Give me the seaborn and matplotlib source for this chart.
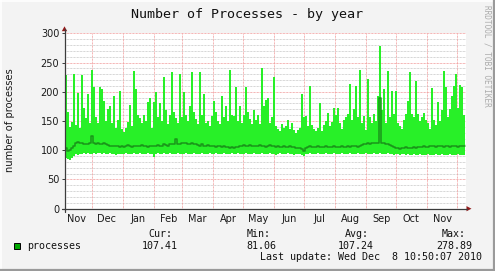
import numpy as np
import pandas as pd
import matplotlib
matplotlib.use("Agg")
import matplotlib.pyplot as plt
import matplotlib.dates as mdates
from matplotlib.patches import Rectangle, Polygon
from matplotlib.lines import Line2D
import seaborn as sns

# ---------------- data (2-day samples, Nov 2009 .. Dec 2010) ----------------
start_date = "2009-11-03 16:00"
step_days = 2

proc_max = [
    228, 165, 140, 148, 231, 143, 198, 138, 228, 172,
    155, 196, 146, 237, 208, 157, 146, 208, 205, 184,
    150, 170, 176, 147, 193, 138, 152, 201, 136, 132,
    138, 148, 178, 142, 236, 205, 160, 155, 146, 160,
    150, 182, 190, 138, 182, 200, 156, 180, 150, 226,
    168, 145, 160, 233, 166, 155, 146, 230, 156, 199,
    160, 150, 176, 234, 166, 154, 145, 233, 160, 197,
    146, 150, 141, 158, 184, 165, 150, 145, 192, 156,
    176, 150, 237, 160, 158, 209, 150, 176, 146, 160,
    209, 165, 153, 145, 168, 152, 160, 145, 240, 176,
    186, 189, 146, 156, 225, 141, 137, 133, 145, 138,
    142, 152, 137, 146, 135, 130, 134, 138, 196, 156,
    158, 142, 210, 144, 137, 133, 138, 180, 133, 144,
    150, 164, 141, 148, 172, 160, 172, 146, 137, 152,
    157, 162, 214, 152, 170, 210, 156, 237, 146, 158,
    134, 221, 156, 146, 162, 150, 192, 279, 168, 204,
    146, 236, 157, 202, 162, 202, 146, 142, 137, 152,
    162, 184, 234, 162, 156, 218, 162, 150, 157, 163,
    152, 146, 137, 206, 152, 144, 183, 150, 168, 235,
    209, 156, 170, 192, 210, 230, 172, 211, 209, 160,
]

proc_min = [
    86, 85, 84, 86, 90, 93, 92, 94, 93, 95,
    94, 95, 94, 93, 95, 94, 96, 95, 94, 95,
    93, 94, 95, 94, 93, 92, 93, 94, 93, 94,
    95, 94, 93, 94, 95, 94, 93, 95, 94, 93,
    94, 95, 93, 94, 88, 94, 95, 94, 93, 95,
    94, 93, 95, 94, 93, 94, 95, 94, 93, 94,
    95, 94, 93, 94, 95, 94, 93, 94, 95, 94,
    93, 94, 95, 93, 94, 95, 94, 93, 94, 95,
    94, 93, 94, 95, 94, 93, 95, 94, 93, 94,
    95, 94, 93, 94, 95, 94, 93, 94, 95, 94,
    93, 94, 95, 94, 93, 92, 94, 95, 94, 93,
    94, 95, 94, 93, 92, 94, 93, 94, 92, 90,
    93, 94, 95, 94, 93, 94, 95, 94, 93, 94,
    95, 94, 93, 94, 95, 94, 93, 94, 95, 94,
    93, 94, 95, 94, 93, 94, 95, 94, 93, 94,
    95, 94, 93, 94, 95, 94, 93, 95, 94, 93,
    94, 95, 94, 93, 92, 93, 94, 92, 93, 94,
    92, 93, 91, 92, 93, 92, 91, 93, 92, 91,
    92, 93, 92, 91, 92, 93, 91, 92, 93, 92,
    91, 92, 93, 92, 91, 92, 93, 92, 91, 92,
]

proc_avg = [
    103, 99, 100, 104, 108, 112, 114, 113, 112, 111,
    110, 111, 113, 124, 113, 111, 112, 110, 111, 112,
    110, 109, 108, 108, 107, 108, 107, 106, 107, 106,
    108, 109, 107, 106, 108, 107, 108, 107, 109, 107,
    108, 106, 107, 108, 107, 108, 109, 107, 108, 110,
    109, 108, 110, 111, 110, 120, 110, 111, 112, 113,
    112, 111, 110, 112, 111, 110, 109, 108, 110, 108,
    107, 109, 108, 107, 108, 106, 107, 108, 106, 107,
    105, 106, 104, 105, 104, 106, 105, 107, 108, 109,
    108, 107, 109, 108, 107, 108, 107, 109, 108, 107,
    106, 108, 109, 108, 107, 106, 107, 106, 105, 107,
    106, 105, 107, 106, 105, 104, 103, 104, 102, 99,
    103, 106, 107, 106, 105, 106, 107, 106, 105, 106,
    107, 106, 105, 106, 107, 106, 105, 106, 107, 106,
    105, 107, 106, 107, 108, 107, 106, 108, 109, 110,
    111, 112, 111, 112, 113, 112, 112, 190, 113, 112,
    111, 110, 109, 108, 106, 104, 103, 102, 104, 103,
    105, 104, 103, 104, 105, 104, 105, 106, 105, 107,
    106, 105, 107, 108, 107, 106, 107, 108, 107, 106,
    108, 107, 106, 107, 108, 107, 106, 107, 108, 107,
]

y_ticks = [0, 50, 100, 150, 200, 250, 300]
title = "Number of Processes - by year"
y_label = "number of processes"
series_name = "processes"
stat_names = ["Cur:", "Min:", "Avg:", "Max:"]
stat_values = ["107.41", "81.06", "107.24", "278.89"]
last_update = "Last update: Wed Dec  8 10:50:07 2010"
watermark = "RRDTOOL / TOBI OETIKER"

# ---------------- figure ----------------
sns.set_style("white")
plt.rcParams["font.family"] = ["DejaVu Sans"]

W, H = 495, 271
BG = "#F3F3F3"
fig = plt.figure(figsize=(W / 100, H / 100), dpi=100, facecolor=BG)


def fx(x):
    return x / W


def fy(y):
    return 1 - y / H


L, R, T, B = 64.5, 465.5, 33.3, 208.7
ax = fig.add_axes([fx(L), fy(B), (R - L) / W, (B - T) / H])
ax.set_facecolor("white")

n = len(proc_max)
dates = pd.Timestamp(start_date) + pd.to_timedelta(np.arange(n + 1) * step_days, unit="D")
mx = np.append(proc_max, proc_max[-1])
mn = np.append(proc_min, proc_min[-1])
av = np.append(proc_avg, proc_avg[-1])
df = pd.DataFrame({"date": dates, "max": mx, "min": mn, "avg": av})

ax.fill_between(df["date"], df["min"], df["max"], step="post",
                color="#28F028", lw=0, zorder=2)
sns.lineplot(data=df, x="date", y="avg", ax=ax, estimator=None,
             drawstyle="steps-post", color="#1A951A", lw=1.1, zorder=3)

ax.set_xlim(pd.Timestamp("2009-11-03 16:00"), pd.Timestamp("2010-12-09 00:00"))
ax.set_ylim(0, 300)

# grid (rrdtool style dotted)
dot = (0, (0.72, 0.72))
for v in range(0, 301, 10):
    if v % 50 == 0:
        continue
    ax.axhline(v, color="#C8C8C8", lw=0.72, ls=dot, zorder=1)
for v in y_ticks[1:]:
    ax.axhline(v, color="#F19B9B", lw=0.72, ls=dot, zorder=1)
months = pd.date_range("2009-12-01", "2010-12-01", freq="MS")
for m in months:
    ax.axvline(m, color="#F19B9B", lw=0.72, ls=dot, zorder=1)

for s in ax.spines.values():
    s.set_visible(False)

ax.set_yticks(y_ticks)
ax.set_yticklabels([str(v) for v in y_ticks])
ax.tick_params(axis="y", which="major", length=2.2, width=0.72, color="#404040",
               direction="out", pad=1.6, labelsize=7, labelcolor="#1A1A1A", left=True)

ax.xaxis.set_major_locator(mdates.MonthLocator(bymonthday=1))
ax.xaxis.set_major_formatter(plt.NullFormatter())
ax.xaxis.set_minor_locator(mdates.MonthLocator(bymonthday=16))
ax.xaxis.set_minor_formatter(mdates.DateFormatter("%b"))
ax.tick_params(axis="x", which="both", length=0, pad=4.0, labelsize=7,
               labelcolor="#1A1A1A", bottom=True)
ax.set_xlabel("")
ax.set_ylabel("")

# axes lines and arrows
axis_col = "#3C3C3C"
fig.add_artist(Line2D([fx(L), fx(L)], [fy(211.5), fy(29)], color=axis_col, lw=0.9))
fig.add_artist(Line2D([fx(61.5), fx(467)], [fy(B), fy(B)], color=axis_col, lw=0.9))
arrow_col = "#921C1C"
fig.add_artist(Polygon([[fx(L), fy(26.3)], [fx(L - 2.7), fy(31.2)], [fx(L + 2.7), fy(31.2)]],
                       closed=True, color=arrow_col, lw=0))
fig.add_artist(Polygon([[fx(471.5), fy(B)], [fx(466.5), fy(B - 2.6)], [fx(466.5), fy(B + 2.6)]],
                       closed=True, color=arrow_col, lw=0))

# texts
mono = "DejaVu Sans Mono"
fig.text(fx(246.7), fy(18.3), title, ha="center", va="baseline",
         family=mono, fontsize=9.6, color="#111111")
fig.text(fx(10), fy(120.5), y_label, ha="center", va="center", rotation=90,
         fontsize=7.1, color="#1A1A1A")
fig.text(fx(486.5), fy(56), watermark, ha="center", va="center", rotation=270,
         family=mono, fontsize=5.6, color="#ABABAB")

# legend row
fig.add_artist(Rectangle((fx(13.5), fy(249)), 6.5 / W, 6.5 / H, facecolor="#00A800",
                         edgecolor="#000000", lw=0.7))
fig.text(fx(26.7), fy(249), series_name, ha="left", va="baseline",
         family=mono, fontsize=7.2, color="#111111")
name_x = [148, 246.7, 345, 442]
val_x = [142, 246.7, 338, 436.7]
for nm, vx, nmx, val in zip(stat_names, val_x, name_x, stat_values):
    fig.text(fx(nmx), fy(237), nm, ha="left", va="baseline",
             family=mono, fontsize=7.2, color="#111111")
    fig.text(fx(vx), fy(249), val, ha="left", va="baseline",
             family=mono, fontsize=7.2, color="#111111")
fig.text(fx(260), fy(260.5), last_update, ha="left", va="baseline",
         family=mono, fontsize=7.2, color="#111111")

# 3D-ish frame
fig.add_artist(Line2D([0, 1], [fy(0.5), fy(0.5)], color="#FFFFFF", lw=1.2))
fig.add_artist(Line2D([fx(0.5), fx(0.5)], [0, 1], color="#FFFFFF", lw=1.2))
fig.add_artist(Line2D([0, 1], [fy(269.8), fy(269.8)], color="#9A9A9A", lw=1.6))
fig.add_artist(Line2D([fx(493.8), fx(493.8)], [0, 1], color="#9A9A9A", lw=1.6))

fig.savefig("out.png", dpi=100, facecolor=BG)
